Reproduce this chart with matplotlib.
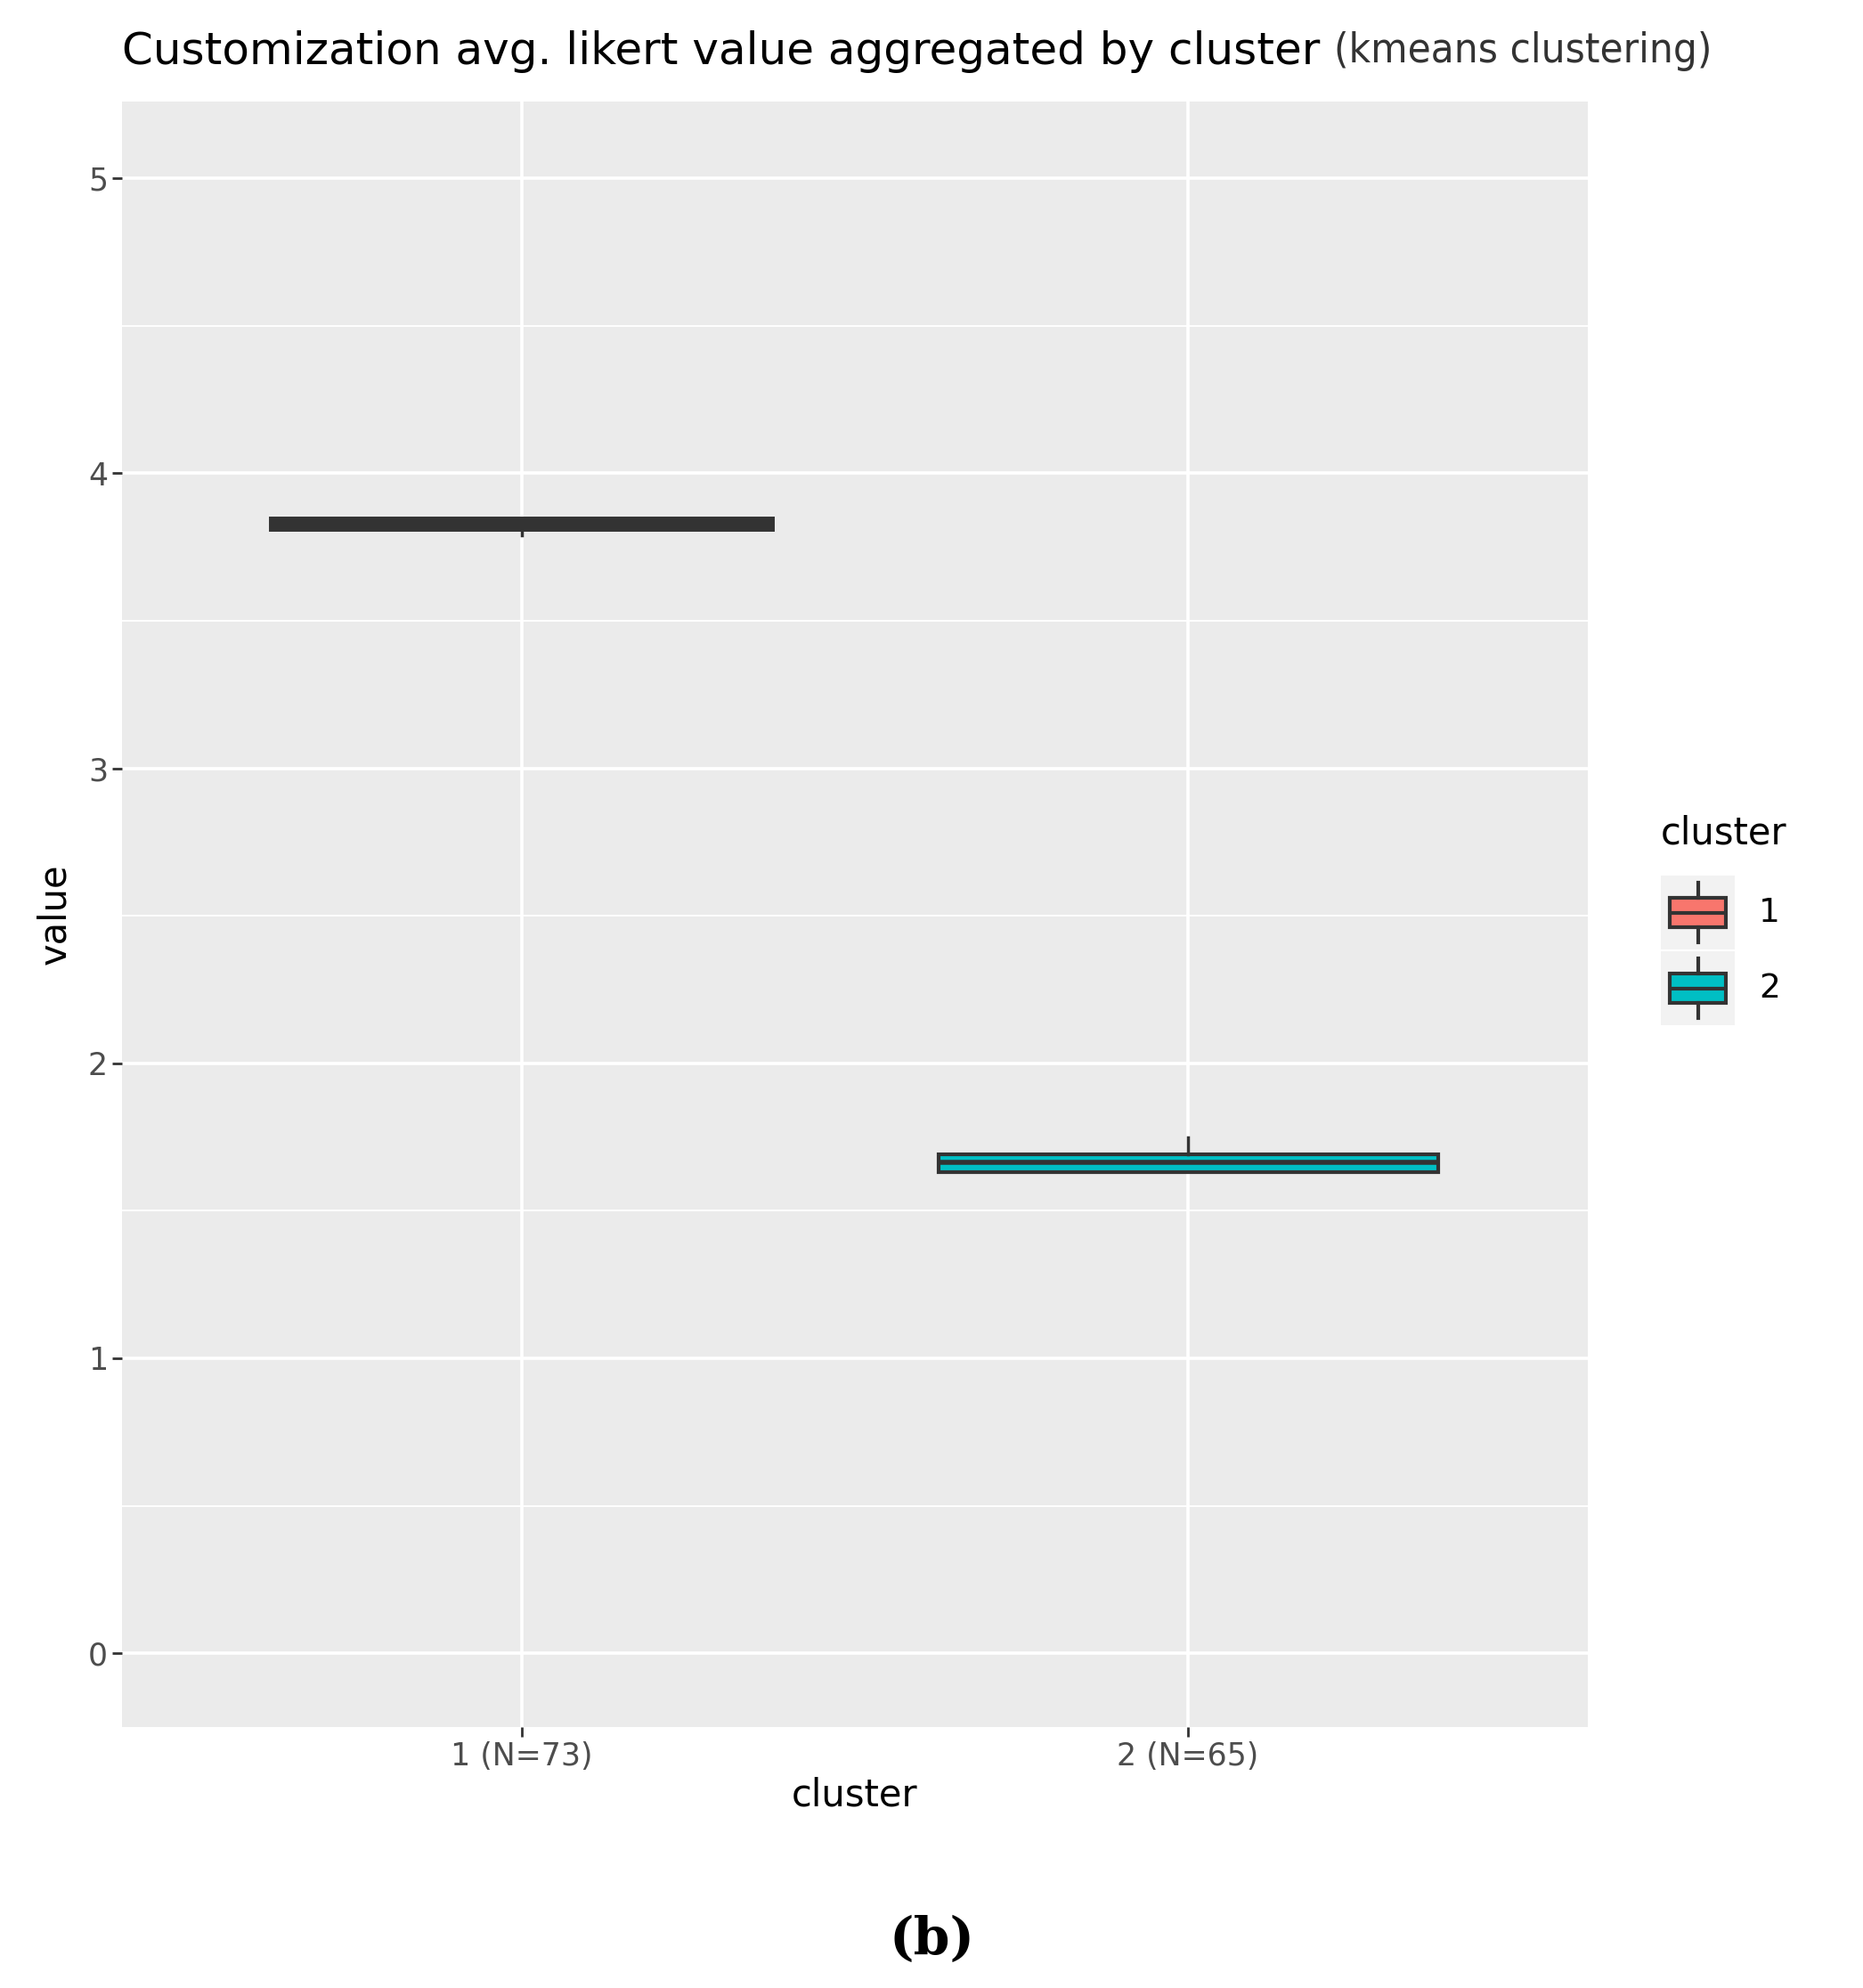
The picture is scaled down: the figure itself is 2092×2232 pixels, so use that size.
import matplotlib
matplotlib.use("Agg")
import matplotlib.pyplot as plt

# box stats
clusters = ["1", "2"]
tick_labels = ["1 (N=73)", "2 (N=65)"]
q1 = [3.815, 1.63]
med = [3.83, 1.665]
q3 = [3.845, 1.69]
whislo = [3.79, 1.63]
whishi = [3.845, 1.75]
colors = ["#F8766D", "#00BFC4"]

W, H = 2092, 2232
fig = plt.figure(figsize=(W / 100, H / 100), dpi=100)
fig.patch.set_facecolor("white")

def fx(px):
    return px / W

def fy(py):
    return 1 - py / H

# main panel (pixel box 137..1783 x 114..1939)
ax = fig.add_axes([fx(137), fy(1939), fx(1783) - fx(137), fy(114) - fy(1939)])
ax.set_facecolor("#EBEBEB")
ax.set_xlim(0.40, 2.60)
ax.set_ylim(-0.25, 5.26)
for y in [0.5, 1.5, 2.5, 3.5, 4.5]:
    ax.axhline(y, color="white", lw=1.3, zorder=0)
for y in range(6):
    ax.axhline(y, color="white", lw=2.6, zorder=0)
for x in [1, 2]:
    ax.axvline(x, color="white", lw=2.6, zorder=0)

stats = [dict(med=med[i], q1=q1[i], q3=q3[i], whislo=whislo[i], whishi=whishi[i], fliers=[])
         for i in range(2)]
bp = ax.bxp(stats, positions=[1, 2], widths=0.75, patch_artist=True, showcaps=False,
            boxprops=dict(edgecolor="#333333", linewidth=3),
            medianprops=dict(color="#333333", linewidth=4),
            whiskerprops=dict(color="#333333", linewidth=2.5), zorder=3)
for patch, c in zip(bp["boxes"], colors):
    patch.set_facecolor(c)
bp["boxes"][0].set_facecolor("#333333")
bp["boxes"][0].set_linewidth(5)

for s in ax.spines.values():
    s.set_visible(False)
ax.set_xticks([1, 2])
ax.set_xticklabels(tick_labels)
ax.set_yticks(range(6))
ax.tick_params(axis="both", labelsize=25, colors="#333333", length=8, width=2, labelcolor="#4D4D4D")
ax.set_xlabel("cluster", fontsize=30, labelpad=4)
ax.set_ylabel("value", fontsize=30, labelpad=12)

t1 = fig.text(fx(137), fy(58), "Customization avg. likert value aggregated by cluster ",
              fontsize=36, va="center", ha="left")
fig.canvas.draw()
ax.annotate("(kmeans clustering)", xy=(1, 0.5), xycoords=t1, va="center", ha="left",
            fontsize=34, color="#333333", fontstretch="condensed", annotation_clip=False)

# legend drawn as tiny boxplots
fig.text(fx(1865), fy(935), "cluster", fontsize=30, va="center", ha="left")
for i, c in enumerate(colors):
    top = 983 + i * 85
    lax = fig.add_axes([fx(1865), fy(top + 83), fx(83), fy(0) - fy(83)])
    lax.set_xlim(0, 1)
    lax.set_ylim(0, 1)
    lax.axis("off")
    lax.add_patch(plt.Rectangle((0, 0), 1, 1, color="#F2F2F2", zorder=0))
    lax.bxp([dict(med=0.5, q1=0.3, q3=0.7, whislo=0.1, whishi=0.9, fliers=[])],
            positions=[0.5], widths=0.75, patch_artist=True, showcaps=False,
            boxprops=dict(edgecolor="#333333", linewidth=3, facecolor=c),
            medianprops=dict(color="#333333", linewidth=3),
            whiskerprops=dict(color="#333333", linewidth=3), manage_ticks=False)
    fig.text(fx(1975), fy(top + 42), clusters[i], fontsize=27, va="center", ha="left")

fig.text(0.5, fy(2178), "(b)", fontsize=42, fontweight="bold", family="DejaVu Serif",
         ha="center", va="center")

fig.savefig("out.png", dpi=100)
